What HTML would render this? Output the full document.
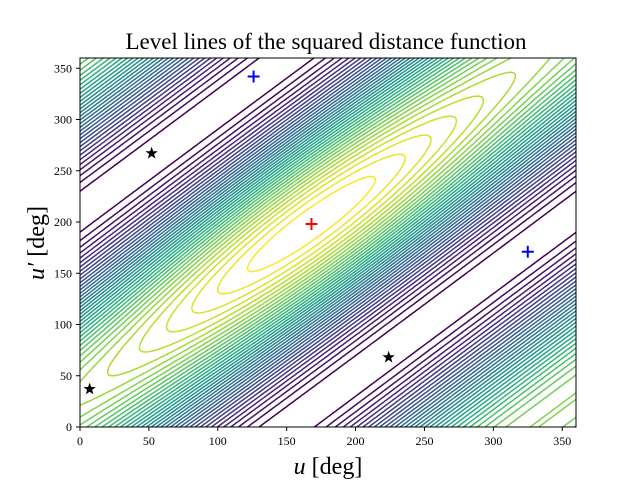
<!DOCTYPE html>
<html><head><meta charset="utf-8">
<style>
body{margin:0;background:#fff;}
svg{display:block;font-family:"Liberation Serif","DejaVu Serif",serif;}
</style></head>
<body>
<svg id="chart" width="640" height="480" viewBox="0 0 640 480">
<defs><clipPath id="clip"><rect x="80" y="58" width="496" height="369"/></clipPath></defs>
<rect x="0" y="0" width="640" height="480" fill="#fff"/>
<text x="326" y="49" font-size="23" text-anchor="middle">Level lines of the squared distance function</text>
<g id="contours" clip-path="url(#clip)"></g>
<g id="markers"></g>
<rect x="80" y="58" width="496" height="369" fill="none" stroke="#000" stroke-width="1"/>
<g id="xticks"></g>
<g id="yticks"></g>
<text x="328" y="474" font-size="24" text-anchor="middle"><tspan font-style="italic">u</tspan> [deg]</text>
<text transform="translate(44,243) rotate(-90)" font-size="24" text-anchor="middle"><tspan font-style="italic">u′</tspan> [deg]</text>
</svg>
<script>
const xTicks=[0,50,100,150,200,250,300,350];
const yTicks=[0,50,100,150,200,250,300,350];
const peakCenter=[168,198];
const bandOffset=[30];
const ridgeBase=[0.8];
const levelValues=[];for(let i=1;i<=39;i++)levelValues.push(i/40);
const redPlusU=[168],redPlusV=[198];
const bluePlusU=[126,325],bluePlusV=[342,171];
const starU=[52,7,224],starV=[267,37,68];

const NS='http://www.w3.org/2000/svg';
const X=u=>80+u*496/360, Y=v=>427-v*369/360;
const rad=Math.PI/180;
function f(u,v){
  const s=u+v-(peakCenter[0]+peakCenter[1]);
  const dd=v-u-(peakCenter[1]-peakCenter[0]);
  const m=Math.exp(-Math.pow(s/250,2)-Math.pow(dd/150,2));
  const ridge=ridgeBase[0]+(1-ridgeBase[0])*m;
  const g=(1+Math.cos((v-u-bandOffset[0])*rad))/2;
  return ridge*g;
}
const stops=[[68,1,84],[72,40,120],[62,74,137],[49,104,142],[38,130,142],[31,158,137],[53,183,121],[109,205,89],[180,222,44],[253,231,37]];
function viridis(t){t=Math.max(0,Math.min(1,t));const p=t*(stops.length-1),i=Math.min(Math.floor(p),stops.length-2),r=p-i;
 const c=stops[i].map((a,k)=>Math.round(a+(stops[i+1][k]-a)*r));return `rgb(${c})`;}

const N=240,step=361/N;
const grid=[];
for(let j=0;j<=N;j++){grid.push([]);for(let i=0;i<=N;i++)grid[j].push(f(i*step,j*step));}
const cg=document.getElementById('contours');
const lmin=levelValues[0],lmax=levelValues[levelValues.length-1];
levelValues.forEach((L,li)=>{
  let d='';
  for(let j=0;j<N;j++)for(let i=0;i<N;i++){
    const a=grid[j][i],b=grid[j][i+1],c=grid[j+1][i+1],e=grid[j+1][i];
    const pts=[];
    const ed=(v1,v2,x1,y1,x2,y2)=>{if((v1<L)!==(v2<L)){const t=(L-v1)/(v2-v1);pts.push([x1+(x2-x1)*t,y1+(y2-y1)*t]);}};
    const u0=i*step,u1=(i+1)*step,v0=j*step,v1=(j+1)*step;
    ed(a,b,u0,v0,u1,v0);ed(b,c,u1,v0,u1,v1);ed(c,e,u1,v1,u0,v1);ed(e,a,u0,v1,u0,v0);
    for(let k=0;k+1<pts.length;k+=2)
      d+=`M${X(pts[k][0]).toFixed(1)},${Y(pts[k][1]).toFixed(1)}L${X(pts[k+1][0]).toFixed(1)},${Y(pts[k+1][1]).toFixed(1)}`;
  }
  const p=document.createElementNS(NS,'path');
  p.setAttribute('d',d);p.setAttribute('fill','none');
  p.setAttribute('stroke',viridis((L-lmin)/(lmax-lmin)));
  p.setAttribute('stroke-width','1.5');p.setAttribute('stroke-linecap','round');
  
  
  cg.appendChild(p);
});
const mg=document.getElementById('markers');
function plus(u,v,col,name){
  const p=document.createElementNS(NS,'path');
  const x=X(u),y=Y(v);
  p.setAttribute('d',`M${x-6},${y}H${x+6}M${x},${y-6}V${y+6}`);
  p.setAttribute('stroke',col);p.setAttribute('stroke-width','2');
  
  
  mg.appendChild(p);
}
redPlusU.forEach((u,i)=>plus(u,redPlusV[i],'#f00','red-plus-marker'));
bluePlusU.forEach((u,i)=>plus(u,bluePlusV[i],'#00f','blue-plus-marker'));
starU.forEach((u,i)=>{
  const x=X(u),y=Y(starV[i]);let d='';
  for(let k=0;k<10;k++){const r=k%2?2.6:6.5,a=-Math.PI/2+k*Math.PI/5;d+=(k?'L':'M')+(x+r*Math.cos(a)).toFixed(1)+','+(y+r*Math.sin(a)).toFixed(1);}
  const p=document.createElementNS(NS,'path');p.setAttribute('d',d+'Z');p.setAttribute('fill','#000');
  
  
  mg.appendChild(p);
});
const xg=document.getElementById('xticks'),yg=document.getElementById('yticks');
xTicks.forEach(t=>{
  const l=document.createElementNS(NS,'line');l.setAttribute('x1',X(t));l.setAttribute('x2',X(t));l.setAttribute('y1',427);l.setAttribute('y2',431);l.setAttribute('stroke','#000');
  
  
  xg.appendChild(l);
  const s=document.createElementNS(NS,'text');s.setAttribute('x',X(t));s.setAttribute('y',445);s.setAttribute('font-size','12');s.setAttribute('text-anchor','middle');s.textContent=t;
  
  
  xg.appendChild(s);
});
yTicks.forEach(t=>{
  const l=document.createElementNS(NS,'line');l.setAttribute('x1',76);l.setAttribute('x2',80);l.setAttribute('y1',Y(t));l.setAttribute('y2',Y(t));l.setAttribute('stroke','#000');
  
  
  yg.appendChild(l);
  const s=document.createElementNS(NS,'text');s.setAttribute('x',72);s.setAttribute('y',Y(t)+4);s.setAttribute('font-size','12');s.setAttribute('text-anchor','end');s.textContent=t;
  
  
  yg.appendChild(s);
});
</script>
</body></html>
